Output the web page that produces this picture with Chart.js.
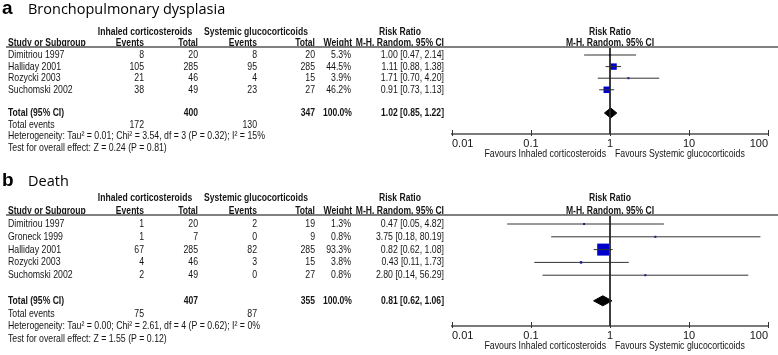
<!DOCTYPE html>
<html>
<head>
<meta charset="utf-8">
<script src="https://cdn.jsdelivr.net/npm/chart.js@4.4.1/dist/chart.umd.min.js"></script>
<style>
  html, body { margin: 0; padding: 0; background: #fff; }
  #wrap { position: relative; width: 778px; height: 355px; }
  #wrap canvas { position: absolute; left: 0; top: 0; }
</style>
</head>
<body>
<div id="wrap">
  <canvas id="bpdChart" width="778" height="355"></canvas>
  <canvas id="deathChart" width="778" height="355"></canvas>
</div>
<script>
// Panel a - Bronchopulmonary dysplasia
const bpdStudies = ['Dimitriou 1997', 'Halliday 2001', 'Rozycki 2003', 'Suchomski 2002'];
const bpdInhaledEvents = [8, 105, 21, 38];
const bpdInhaledTotal = [20, 285, 46, 49];
const bpdSystemicEvents = [8, 95, 4, 23];
const bpdSystemicTotal = [20, 285, 15, 27];
const bpdWeight = [5.3, 44.5, 3.9, 46.2];
const bpdRR = [1.00, 1.11, 1.71, 0.91];
const bpdLower = [0.47, 0.88, 0.70, 0.73];
const bpdUpper = [2.14, 1.38, 4.20, 1.13];
const bpdPooled = [1.02, 0.85, 1.22];
const bpdTotals = [400, 347];
const bpdEvents = [172, 130];
const bpdHeterogeneity = 'Heterogeneity: Tau² = 0.01; Chi² = 3.54, df = 3 (P = 0.32); I² = 15%';
const bpdOverall = 'Test for overall effect: Z = 0.24 (P = 0.81)';

// Panel b - Death
const deathStudies = ['Dimitriou 1997', 'Groneck 1999', 'Halliday 2001', 'Rozycki 2003', 'Suchomski 2002'];
const deathInhaledEvents = [1, 1, 67, 4, 2];
const deathInhaledTotal = [20, 7, 285, 46, 49];
const deathSystemicEvents = [2, 0, 82, 3, 0];
const deathSystemicTotal = [19, 9, 285, 15, 27];
const deathWeight = [1.3, 0.8, 93.3, 3.8, 0.8];
const deathRR = [0.47, 3.75, 0.82, 0.43, 2.80];
const deathLower = [0.05, 0.18, 0.62, 0.11, 0.14];
const deathUpper = [4.82, 80.19, 1.08, 1.73, 56.29];
const deathPooled = [0.81, 0.62, 1.06];
const deathTotals = [407, 355];
const deathEvents = [75, 87];
const deathHeterogeneity = 'Heterogeneity: Tau² = 0.00; Chi² = 2.61, df = 4 (P = 0.62); I² = 0%';
const deathOverall = 'Test for overall effect: Z = 1.55 (P = 0.12)';

// Axis
const tickValues = [0.01, 0.1, 1, 10, 100];
const tickLabels = ['0.01', '0.1', '1', '10', '100'];

const FONT = '"Liberation Sans", Arial, sans-serif';
// the original table type is condensed, so squeeze it horizontally
const SQUEEZE = 0.795;
const SQUEEZE_BOLD = 0.78;
const TEXT = '#151515';
const H = 355;

// column anchors of the table (px)
const COL = { study: 8, ev1: 144, tot1: 198, ev2: 257, tot2: 315, weight: 351, rr: 444, grp1: 145, grp2: 256, rrHead: 400 };

const panels = [
    {
        canvas: 'bpdChart', letter: 'a', title: 'Bronchopulmonary dysplasia', titleY: 14,
        studies: bpdStudies, ie: bpdInhaledEvents, it: bpdInhaledTotal, se: bpdSystemicEvents, st: bpdSystemicTotal,
        weight: bpdWeight, rr: bpdRR, lower: bpdLower, upper: bpdUpper, pooled: bpdPooled,
        totals: bpdTotals, events: bpdEvents, het: bpdHeterogeneity, overall: bpdOverall,
        sepY: 47, axisY: 134, row0Y: 55, pitch: 11.6, maxSide: 6.5
    },
    {
        canvas: 'deathChart', letter: 'b', title: 'Death', titleY: 186,
        studies: deathStudies, ie: deathInhaledEvents, it: deathInhaledTotal, se: deathSystemicEvents, st: deathSystemicTotal,
        weight: deathWeight, rr: deathRR, lower: deathLower, upper: deathUpper, pooled: deathPooled,
        totals: deathTotals, events: deathEvents, het: deathHeterogeneity, overall: deathOverall,
        sepY: 215, axisY: 326, row0Y: 224, pitch: 12.8, maxSide: 12
    }
];

function txt(ctx, s, x, y, align, bold) {
    ctx.save();
    ctx.font = (bold ? 'bold ' : '') + '11px ' + FONT;
    ctx.textAlign = align;
    ctx.textBaseline = 'middle';
    ctx.fillStyle = TEXT;
    ctx.translate(x, y);
    ctx.scale(bold ? SQUEEZE_BOLD : SQUEEZE, 1);
    ctx.fillText(s, 0, 0);
    ctx.restore();
}

function ciText(est, lo, hi) {
    return `${est.toFixed(2)} [${lo.toFixed(2)}, ${hi.toFixed(2)}]`;
}

function tablePlugin(p) {
    return {
        id: 'forestTable',
        afterDraw(chart) {
            const ctx = chart.ctx;
            const xs = chart.scales.x;
            const ys = chart.scales.y;
            const rowY = i => ys.getPixelForValue(i);
            const x1 = xs.getPixelForValue(1);
            const n = p.studies.length;

            ctx.save();

            // title
            ctx.fillStyle = '#000';
            ctx.textBaseline = 'alphabetic';
            ctx.textAlign = 'left';
            ctx.font = 'bold 19px "Liberation Sans", Arial, sans-serif';
            ctx.fillText(p.letter, 2, p.titleY);
            ctx.font = '14.5px "Open Sans", sans-serif';
            ctx.fillText(p.title, 28, p.titleY);

            // header rows
            txt(ctx, 'Inhaled corticosteroids', COL.grp1, rowY(-2), 'center', true);
            txt(ctx, 'Systemic glucocorticoids', COL.grp2, rowY(-2), 'center', true);
            txt(ctx, 'Risk Ratio', COL.rrHead, rowY(-2), 'center', true);
            txt(ctx, 'Risk Ratio', x1, rowY(-2), 'center', true);
            txt(ctx, 'Study or Subgroup', COL.study, rowY(-1), 'left', true);
            txt(ctx, 'Events', COL.ev1, rowY(-1), 'right', true);
            txt(ctx, 'Total', COL.tot1, rowY(-1), 'right', true);
            txt(ctx, 'Events', COL.ev2, rowY(-1), 'right', true);
            txt(ctx, 'Total', COL.tot2, rowY(-1), 'right', true);
            txt(ctx, 'Weight', COL.weight + 1, rowY(-1), 'right', true);
            txt(ctx, 'M-H, Random, 95% CI', COL.rr, rowY(-1), 'right', true);
            txt(ctx, 'M-H, Random, 95% CI', x1, rowY(-1), 'center', true);

            // separator under the header
            ctx.strokeStyle = '#808080';
            ctx.lineWidth = 2;
            ctx.beginPath();
            ctx.moveTo(6, chart.chartArea.top);
            ctx.lineTo(778, chart.chartArea.top);
            ctx.stroke();

            // study rows
            p.studies.forEach((s, i) => {
                const y = rowY(i);
                txt(ctx, s, COL.study, y, 'left');
                txt(ctx, String(p.ie[i]), COL.ev1, y, 'right');
                txt(ctx, String(p.it[i]), COL.tot1, y, 'right');
                txt(ctx, String(p.se[i]), COL.ev2, y, 'right');
                txt(ctx, String(p.st[i]), COL.tot2, y, 'right');
                txt(ctx, p.weight[i].toFixed(1) + '%', COL.weight, y, 'right');
                txt(ctx, ciText(p.rr[i], p.lower[i], p.upper[i]), COL.rr, y, 'right');
            });

            // total rows
            const t = n + 1;
            txt(ctx, 'Total (95% CI)', COL.study, rowY(t), 'left', true);
            txt(ctx, String(p.totals[0]), COL.tot1, rowY(t), 'right', true);
            txt(ctx, String(p.totals[1]), COL.tot2, rowY(t), 'right', true);
            txt(ctx, '100.0%', COL.weight + 1, rowY(t), 'right', true);
            txt(ctx, ciText(p.pooled[0], p.pooled[1], p.pooled[2]), COL.rr, rowY(t), 'right', true);
            txt(ctx, 'Total events', COL.study, rowY(t + 1), 'left');
            txt(ctx, String(p.events[0]), COL.ev1, rowY(t + 1), 'right');
            txt(ctx, String(p.events[1]), COL.ev2, rowY(t + 1), 'right');
            txt(ctx, p.het, COL.study, rowY(t + 2), 'left');
            txt(ctx, p.overall, COL.study, rowY(t + 3), 'left');

            // tick marks on the axis
            const ay = chart.chartArea.bottom;
            ctx.strokeStyle = '#333';
            ctx.lineWidth = 1;
            xs.ticks.forEach(tk => {
                const px = Math.round(xs.getPixelForValue(tk.value)) + 0.5;
                ctx.beginPath();
                ctx.moveTo(px, ay - 4);
                ctx.lineTo(px, ay + 2);
                ctx.stroke();
            });

            // favours labels
            txt(ctx, 'Favours Inhaled corticosteroids', x1 - 4, ay + 20, 'right');
            txt(ctx, 'Favours Systemic glucocorticoids', x1 + 5, ay + 20, 'left');

            ctx.restore();
        }
    };
}

function buildDatasets(p, yMin, yMax) {
    const n = p.studies.length;
    const wMax = Math.max(...p.weight);
    const datasets = [];

    // line of no effect
    datasets.push({
        data: [{ x: 1, y: yMin }, { x: 1, y: yMax }],
        borderColor: '#222', borderWidth: 1, pointRadius: 0
    });

    // confidence intervals
    p.lower.forEach((lo, i) => {
        datasets.push({
            data: [{ x: lo, y: i }, { x: p.upper[i], y: i }],
            borderColor: '#333', borderWidth: 1, pointRadius: 0
        });
    });

    // study squares, area proportional to weight
    datasets.push({
        data: p.rr.map((r, i) => ({ x: r, y: i })),
        showLine: false,
        pointStyle: 'rect',
        pointRadius: p.weight.map(w => Math.max(2, p.maxSide * Math.sqrt(w / wMax)) / Math.SQRT2),
        pointBackgroundColor: '#0000cc',
        pointBorderColor: '#0000cc',
        pointBorderWidth: 0
    });

    // pooled diamond
    const t = n + 1;
    const hh = 5 / p.pitch;
    const [est, lo, hi] = p.pooled;
    datasets.push({
        data: [{ x: lo, y: t }, { x: est, y: t - hh }, { x: hi, y: t }, { x: est, y: t + hh }, { x: lo, y: t }],
        borderColor: '#000', backgroundColor: '#000', borderWidth: 1,
        pointRadius: 0, fill: 'shape', tension: 0
    });

    return datasets;
}

function createForest(p) {
    const yMin = -(p.row0Y - p.sepY) / p.pitch;
    const yMax = (p.axisY - p.row0Y) / p.pitch;

    return new Chart(document.getElementById(p.canvas), {
        type: 'line',
        data: { datasets: buildDatasets(p, yMin, yMax) },
        options: {
            responsive: false,
            animation: false,
            devicePixelRatio: 1,
            layout: { padding: { left: 452, right: 10, top: p.sepY, bottom: 0 } },
            plugins: {
                legend: { display: false },
                tooltip: { enabled: false }
            },
            scales: {
                x: {
                    type: 'logarithmic',
                    min: 0.01,
                    max: 100,
                    afterBuildTicks: scale => {
                        scale.ticks = tickValues.map(v => ({ value: v }));
                    },
                    afterFit: scale => {
                        scale.height = H - p.axisY;
                    },
                    grid: { display: false, drawTicks: false, tickLength: 0 },
                    border: { display: true, color: '#7a7a7a', width: 2 },
                    ticks: {
                        align: 'inner',
                        padding: 3,
                        autoSkip: false,
                        maxRotation: 0,
                        color: TEXT,
                        font: { family: FONT, size: 11 },
                        callback: (value, index) => tickLabels[index]
                    }
                },
                y: {
                    type: 'linear',
                    display: false,
                    reverse: true,
                    min: yMin,
                    max: yMax
                }
            }
        },
        plugins: [tablePlugin(p)]
    });
}

panels.forEach(createForest);
</script>
</body>
</html>
